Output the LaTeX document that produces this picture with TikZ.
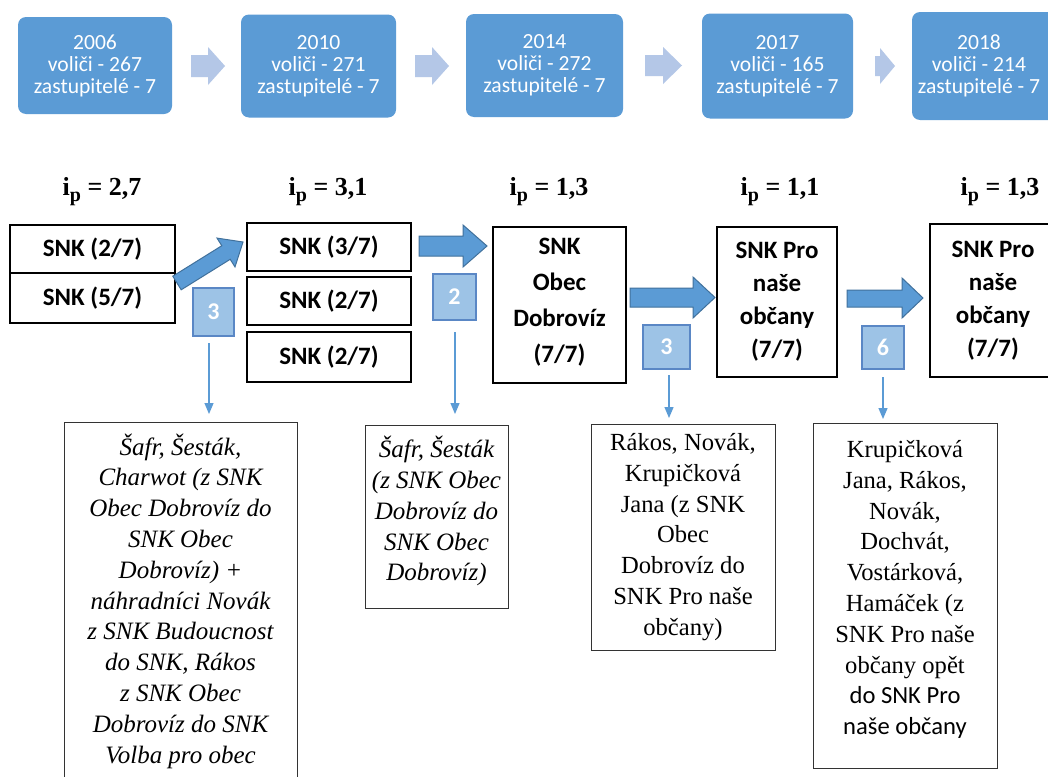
\documentclass[tikz,border=0pt]{standalone}
\usepackage{fontspec}
\setmainfont{Liberation Serif}
\newfontfamily\carlito{Carlito}
\usetikzlibrary{arrows.meta}
\definecolor{topblue}{HTML}{5B9BD5}
\definecolor{chev}{HTML}{B4C7E7}
\definecolor{arrblue}{HTML}{5B9BD5}
\definecolor{arrdark}{HTML}{41719C}
\definecolor{sqfill}{HTML}{9DC3E6}
\definecolor{sqdraw}{HTML}{5A87C5}
\definecolor{thinblue}{HTML}{5B9BD5}
\newcommand\ipsub{\raisebox{-0.5ex}{\fontsize{10}{10}\selectfont p}}
\begin{document}
\begin{tikzpicture}[x=0.5pt,y=-0.5pt,
  topbox/.style={fill=topblue, rounded corners=4pt, text=white, align=center, inner sep=0pt,
     font={\fontsize{10.8}{11}\selectfont\carlito}},
  toptext/.style={text=white, align=center, inner sep=0pt,
     font={\fontsize{10.8}{11}\selectfont\carlito}},
  chevshape/.style={fill=chev},
  blockarr/.style={fill=arrblue, draw=arrdark, line width=0.5pt, line join=miter},
  snkbox/.style={draw=black, line width=1pt, align=center, inner sep=0pt,
     font={\fontsize{12.5}{17}\selectfont\carlito\bfseries}},
  ipl/.style={inner sep=0pt, font={\fontsize{13}{14}\selectfont\bfseries}},
  numsq/.style={fill=sqfill, draw=sqdraw, line width=0.8pt, text=white, inner sep=0pt,
     font={\fontsize{12}{12}\selectfont\carlito\bfseries}},
  thinarr/.style={draw=thinblue, line width=0.6pt, -{Triangle[length=5.5pt,width=4.5pt]}},
  itbox/.style={draw=black!80, line width=0.5pt, align=center, inner sep=0pt,
     font={\fontsize{12.5}{15.4}\selectfont\itshape}},
  rgbox/.style={draw=black!80, line width=0.5pt, align=center, inner sep=0pt,
     font={\fontsize{12.3}{15.4}\selectfont}}
]
\useasboundingbox (0,0) rectangle (1048,776);
\clip (0,0) rectangle (1048,776);
\fill[white] (0,0) rectangle (1048,776);

% top timeline boxes
\node[topbox, minimum width=77pt, minimum height=48.5pt] (y1) at (95,65.5) {2006\\voliči - 267\\zastupitelé - 7};
\node[topbox, minimum width=77.5pt, minimum height=51.5pt] (y2) at (318.5,66) {2010\\voliči - 271\\zastupitelé - 7};
\node[topbox, minimum width=78.5pt, minimum height=51.5pt] (y3) at (544.5,65.5) {2014\\voliči - 272\\zastupitelé - 7};
\node[topbox, minimum width=75.5pt, minimum height=52.5pt] (y4) at (777.5,66) {2017\\voliči - 165\\zastupitelé - 7};
\fill[topblue, rounded corners=4pt] (912,12) rectangle (1075,120);
\node[toptext] (y5) at (979,66) {2018\\voliči - 214\\zastupitelé - 7};

% chevrons
\fill[chevshape] (191,55) -- (208,55) -- (208,47) -- (225,66) -- (208,85) -- (208,77) -- (191,77) -- cycle;
\fill[chevshape] (415,55) -- (432,55) -- (432,47) -- (449,66) -- (432,85) -- (432,77) -- (415,77) -- cycle;
\fill[chevshape] (645,55) -- (663,55) -- (663,47) -- (682,65.5) -- (663,84) -- (663,76) -- (645,76) -- cycle;
\fill[chevshape] (875,56) -- (880,56) -- (880,48) -- (895,66) -- (880,84) -- (880,76) -- (875,76) -- cycle;

% index labels
\node[ipl] (ip1) at (102,192) {i\ipsub\ = 2,7};
\node[ipl] (ip2) at (328,192) {i\ipsub\ = 3,1};
\node[ipl] (ip3) at (549,192) {i\ipsub\ = 1,3};
\node[ipl] (ip4) at (780,192) {i\ipsub\ = 1,1};
\node[ipl] (ip5) at (1000,192) {i\ipsub\ = 1,3};

% party boxes
\node[snkbox, minimum width=82.5pt, minimum height=24pt] (l1) at (92.5,249) {SNK (2/7)};
\node[snkbox, minimum width=82.5pt, minimum height=25pt] (l2) at (92.5,298) {SNK (5/7)};
\node[snkbox, minimum width=82pt, minimum height=24pt] (m1) at (329,247) {SNK (3/7)};
\node[snkbox, minimum width=82pt, minimum height=24pt] (m2) at (329,301) {SNK (2/7)};
\node[snkbox, minimum width=82pt, minimum height=25pt] (m3) at (329,357) {SNK (2/7)};
\node[snkbox, minimum width=66.5pt, minimum height=78pt, font={\fontsize{12.5}{18}\selectfont\carlito\bfseries}] (b3) at (559.5,305) {SNK\\Obec\\Dobrovíz\\(7/7)\rule[-5pt]{0pt}{0pt}};
\node[snkbox, minimum width=60pt, minimum height=75pt, font={\fontsize{12.5}{16.5}\selectfont\carlito\bfseries}] (b4) at (777,302) {SNK Pro\\naše\\občany\\(7/7)};
\node[snkbox, minimum width=63pt, minimum height=76.5pt, font={\fontsize{12.5}{16.5}\selectfont\carlito\bfseries}] (b5) at (993,300.5) {SNK Pro\\naše\\občany\\(7/7)};

% block arrows
\draw[blockarr] (181.2,289.8) -- (230.2,259.3) -- (235.0,266.9) -- (243,242) -- (217.0,238.1) -- (221.8,245.7) -- (172.8,276.2) -- cycle;
\draw[blockarr] (419,236) -- (463,236) -- (463,225) -- (487,246) -- (463,267) -- (463,256) -- (419,256) -- cycle;
\draw[blockarr] (630,288) -- (693,288) -- (693,277) -- (715,297.5) -- (693,318) -- (693,307) -- (630,307) -- cycle;
\draw[blockarr] (847,290) -- (902,290) -- (902,278) -- (923,298) -- (902,318) -- (902,307) -- (847,307) -- cycle;

% number squares
\node[numsq, minimum width=20.5pt, minimum height=24pt] (s1) at (213.5,312) {3};
\node[numsq, minimum width=21.5pt, minimum height=23pt] (s2) at (454.5,297) {2};
\node[numsq, minimum width=23.5pt, minimum height=22pt] (s3) at (666.5,347) {3};
\node[numsq, minimum width=21pt, minimum height=21.5pt] (s4) at (883,347.5) {6};

% thin arrows
\coordinate (a1s) at (209,343); \coordinate (a1e) at (209,414);
\coordinate (a2s) at (455,332); \coordinate (a2e) at (455,414);
\coordinate (a3s) at (669,375); \coordinate (a3e) at (669,418);
\coordinate (a4s) at (883,377); \coordinate (a4e) at (883,419);
\draw[thinarr] (a1s) -- (a1e);
\draw[thinarr] (a2s) -- (a2e);
\draw[thinarr] (a3s) -- (a3e);
\draw[thinarr] (a4s) -- (a4e);

% text boxes
\node[itbox, minimum width=116.5pt, minimum height=179pt] (ta) at (180.5,601) {Šafr, Šesták,\\Charwot (z SNK\\Obec Dobrovíz do\\SNK Obec\\Dobrovíz) +\\náhradníci Novák\\z SNK Budoucnost\\do SNK, Rákos\\z SNK Obec\\Dobrovíz do SNK\\Volba pro obec};
\node[itbox, minimum width=71.5pt, minimum height=91.5pt] (tb) at (436.5,516.5) {Šafr, Šesták\\(z SNK Obec\\Dobrovíz do\\SNK Obec\\Dobrovíz)\rule[-8pt]{0pt}{0pt}};
\node[rgbox, minimum width=92pt, minimum height=113pt] (tc) at (683,537) {Rákos, Novák,\\Krupičková\\Jana (z SNK\\Obec\\Dobrovíz do\\SNK Pro naše\\občany)};
\node[rgbox, minimum width=92pt, minimum height=172.5pt] (td) at (905,595.5) {Krupičková\\Jana, Rákos,\\Novák,\\Dochvát,\\Vostárková,\\Hamáček (z\\SNK Pro naše\\občany opět\\{\carlito do SNK Pro}\\{\carlito naše občany}\rule[-8pt]{0pt}{0pt}};
\end{tikzpicture}
\end{document}
